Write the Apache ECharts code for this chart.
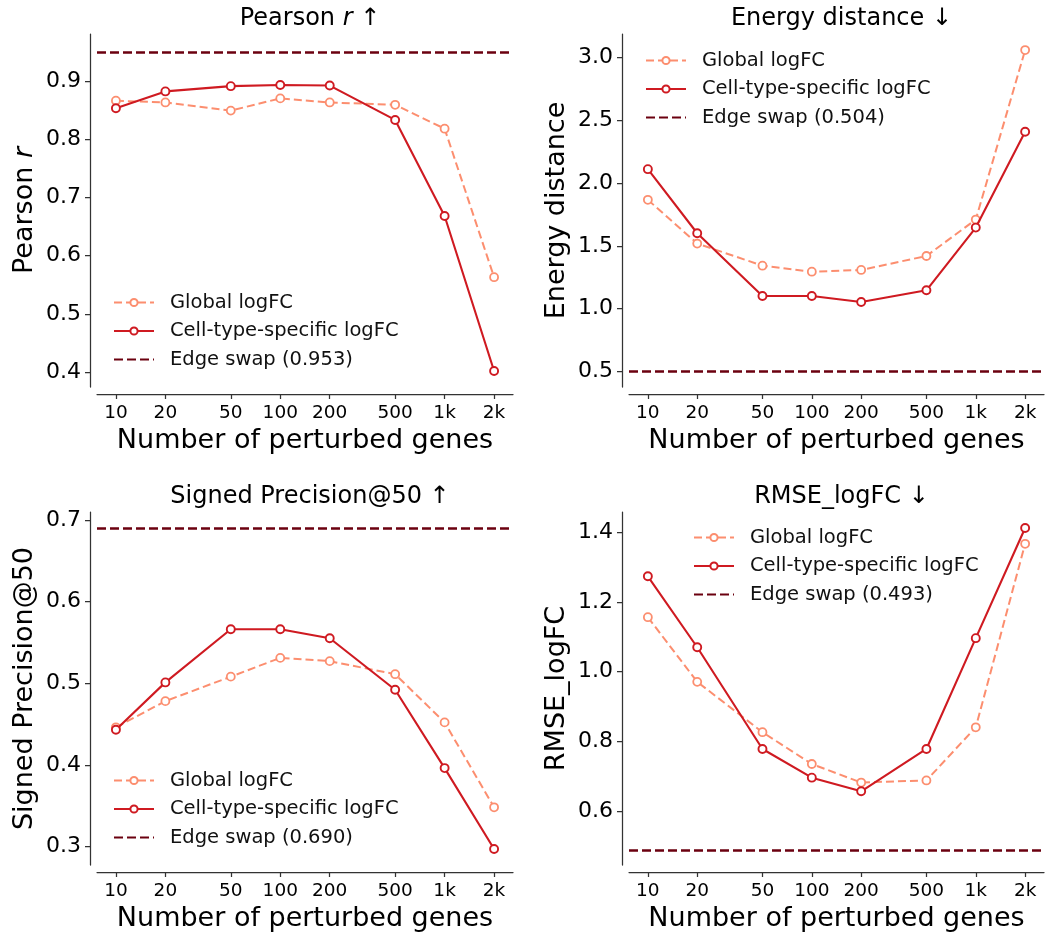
<!DOCTYPE html>
<html>
<head>
<meta charset="utf-8">
<script src="https://cdn.jsdelivr.net/npm/echarts@6/dist/echarts.min.js"></script>
<style>
  html, body { margin: 0; padding: 0; background: #fff; }
  #chart { width: 1045px; height: 937px; }
</style>
</head>
<body>
<div id="chart"></div>
<script>
// Number of perturbed genes (x values) and their tick labels
const GENES = [10, 20, 50, 100, 200, 500, 1000, 2000];
const GENE_LABELS = ['10', '20', '50', '100', '200', '500', '1k', '2k'];

// Pearson r
const pearsonGlobal = [0.866, 0.863, 0.849, 0.870, 0.863, 0.859, 0.818, 0.563];
const pearsonCell   = [0.853, 0.882, 0.891, 0.893, 0.892, 0.833, 0.668, 0.402];
const pearsonEdge = 0.953;
const pearsonTicks = [0.4, 0.5, 0.6, 0.7, 0.8, 0.9];

// Energy distance
const energyGlobal = [1.866, 1.518, 1.342, 1.294, 1.308, 1.419, 1.709, 3.058];
const energyCell   = [2.110, 1.600, 1.100, 1.100, 1.053, 1.146, 1.645, 2.408];
const energyEdge = 0.504;
const energyTicks = [0.5, 1.0, 1.5, 2.0, 2.5, 3.0];

// Signed Precision@50
const precisionGlobal = [0.446, 0.478, 0.508, 0.531, 0.527, 0.511, 0.452, 0.348];
const precisionCell   = [0.443, 0.501, 0.566, 0.566, 0.555, 0.492, 0.396, 0.297];
const precisionEdge = 0.690;
const precisionTicks = [0.3, 0.4, 0.5, 0.6, 0.7];

// RMSE_logFC
const rmseGlobal = [1.156, 0.971, 0.827, 0.736, 0.683, 0.689, 0.841, 1.366];
const rmseCell   = [1.273, 1.070, 0.779, 0.697, 0.658, 0.779, 1.096, 1.411];
const rmseEdge = 0.493;
const rmseTicks = [0.6, 0.8, 1.0, 1.2, 1.4];

const SERIES_NAMES = ['Global logFC', 'Cell-type-specific logFC'];
const COLORS = { global: '#fc8e6f', cell: '#cf1a21', edge: '#6b000f', axis: '#333333' };
const FONT = 'DejaVu Sans';

const panels = [
  { title: 'Pearson {i|r} ↑', ylabel: 'Pearson {i|r}', g: pearsonGlobal, c: pearsonCell, edge: pearsonEdge, ticks: pearsonTicks,
    grid: { left: 97, top: 34, width: 416, height: 353 }, legend: { left: 113, top: 292 } },
  { title: 'Energy distance ↓', ylabel: 'Energy distance', g: energyGlobal, c: energyCell, edge: energyEdge, ticks: energyTicks,
    grid: { left: 629, top: 34, width: 415, height: 353 }, legend: { left: 645, top: 50 } },
  { title: 'Signed Precision@50 ↑', ylabel: 'Signed Precision@50', g: precisionGlobal, c: precisionCell, edge: precisionEdge, ticks: precisionTicks,
    grid: { left: 97, top: 512, width: 416, height: 353 }, legend: { left: 113, top: 770 } },
  { title: 'RMSE_logFC ↓', ylabel: 'RMSE_logFC', g: rmseGlobal, c: rmseCell, edge: rmseEdge, ticks: rmseTicks,
    grid: { left: 629, top: 512, width: 415, height: 353 }, legend: { left: 693, top: 527 } }
];

const logX = GENES.map(v => Math.log10(v));
const xLo = logX[0], xHi = logX[logX.length - 1];
const xPad = 0.05 * (xHi - xLo);

function labelFor(v) {
  let best = 0;
  logX.forEach((lx, i) => { if (Math.abs(lx - v) < Math.abs(logX[best] - v)) best = i; });
  return GENE_LABELS[best];
}

const option = {
  animation: false,
  backgroundColor: '#ffffff',
  textStyle: { fontFamily: FONT },
  title: [], grid: [], xAxis: [], yAxis: [], legend: [], series: []
};

panels.forEach((p, k) => {
  const all = p.g.concat(p.c, [p.edge]);
  const yMin = Math.min(...all), yMax = Math.max(...all);
  const yPad = 0.05 * (yMax - yMin);
  const tag = '\u200b'.repeat(k);

  option.title.push({
    text: p.title,
    left: p.grid.left + p.grid.width / 2,
    top: p.grid.top - 32,
    textAlign: 'center',
    textStyle: {
      fontFamily: FONT, fontSize: 24, fontWeight: 'normal', color: '#000',
      rich: { i: { fontFamily: FONT, fontSize: 24, fontStyle: 'italic', color: '#000' } }
    }
  });

  option.grid.push(Object.assign({ containLabel: false, outerBoundsMode: 'none' }, p.grid));

  option.xAxis.push({
    gridIndex: k,
    type: 'value',
    min: xLo - xPad,
    max: xHi + xPad,
    offset: 7,
    name: 'Number of perturbed genes',
    nameLocation: 'middle',
    nameGap: 33,
    nameTextStyle: { fontFamily: FONT, fontSize: 27, color: '#000' },
    axisLine: { onZero: false, lineStyle: { color: COLORS.axis, width: 1.25 } },
    axisTick: { customValues: logX, length: 5, lineStyle: { color: COLORS.axis, width: 1.25 } },
    axisLabel: { customValues: logX, formatter: v => labelFor(v), fontFamily: FONT, fontSize: 18.5, color: '#000', margin: 10 },
    splitLine: { show: false }
  });

  option.yAxis.push({
    gridIndex: k,
    type: 'value',
    min: yMin - yPad,
    max: yMax + yPad,
    offset: 7,
    name: p.ylabel,
    nameLocation: 'middle',
    nameGap: 52,
    nameTextStyle: {
      fontFamily: FONT, fontSize: 27, color: '#000',
      rich: { i: { fontFamily: FONT, fontSize: 27, fontStyle: 'italic', color: '#000' } }
    },
    axisLine: { show: true, lineStyle: { color: COLORS.axis, width: 1.25 } },
    axisTick: { show: true, customValues: p.ticks, length: 5, lineStyle: { color: COLORS.axis, width: 1.25 } },
    axisLabel: { customValues: p.ticks, formatter: v => v.toFixed(1), fontFamily: FONT, fontSize: 22, color: '#000', margin: 9 },
    splitLine: { show: false }
  });

  const edgeName = 'Edge swap (' + p.edge.toFixed(3) + ')';

  option.legend.push({
    left: p.legend.left,
    top: p.legend.top,
    orient: 'vertical',
    itemWidth: 40,
    itemHeight: 9,
    itemGap: 7.5,
    padding: 0,
    data: [
      { name: SERIES_NAMES[0] + tag },
      { name: SERIES_NAMES[1] + tag },
      { name: edgeName, itemStyle: { opacity: 0 } }
    ],
    textStyle: { fontFamily: FONT, fontSize: 19.5, color: '#111', lineHeight: 21, padding: [0, 0, 0, 11] }
  });

  const toData = vals => vals.map((v, i) => [logX[i], v]);

  option.series.push({
    name: SERIES_NAMES[0] + tag,
    type: 'line', xAxisIndex: k, yAxisIndex: k,
    data: toData(p.g),
    symbol: 'circle', symbolSize: 8, showSymbol: true,
    lineStyle: { color: COLORS.global, width: 2, type: [8, 4] },
    itemStyle: { color: '#ffffff', borderColor: COLORS.global, borderWidth: 1.8 },
    z: 2
  });
  option.series.push({
    name: SERIES_NAMES[1] + tag,
    type: 'line', xAxisIndex: k, yAxisIndex: k,
    data: toData(p.c),
    symbol: 'circle', symbolSize: 8, showSymbol: true,
    lineStyle: { color: COLORS.cell, width: 2.1 },
    itemStyle: { color: '#ffffff', borderColor: COLORS.cell, borderWidth: 1.9 },
    z: 3
  });
  option.series.push({
    name: edgeName,
    type: 'line', xAxisIndex: k, yAxisIndex: k,
    data: [],
    symbol: 'none',
    lineStyle: { color: COLORS.edge, width: 2.5, type: [9, 4] },
    itemStyle: { color: COLORS.edge },
    markLine: {
      silent: true, symbol: ['none', 'none'],
      label: { show: false },
      lineStyle: { color: COLORS.edge, width: 2.5, type: [9, 4] },
      data: [{ yAxis: p.edge }]
    },
    z: 1
  });
});

const chart = echarts.init(document.getElementById('chart'), null, { renderer: 'canvas' });
chart.setOption(option);
</script>
</body>
</html>
